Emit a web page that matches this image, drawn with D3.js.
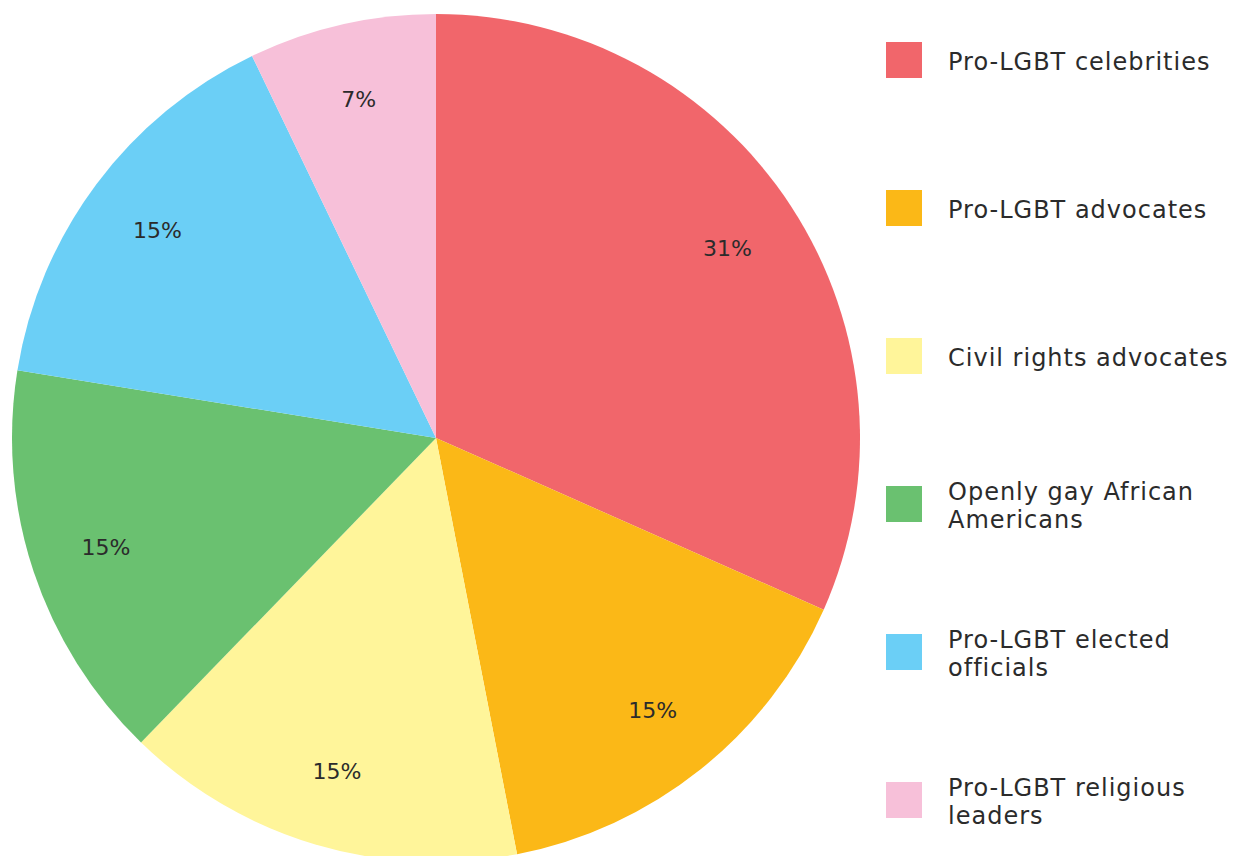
<!DOCTYPE html>
<html>
<head>
<meta charset="utf-8">
<script src="https://cdn.jsdelivr.net/npm/d3@7"></script>
<style>
  body { margin: 0; background: #fff; }
  svg { display: block; }
</style>
</head>
<body>
<div id="chart"></div>
<script>
(function () {
  var categories = ["Pro-LGBT celebrities", "Pro-LGBT advocates", "Civil rights advocates",
                    "Openly gay African Americans", "Pro-LGBT elected officials", "Pro-LGBT religious leaders"];
  var legendLines = [["Pro-LGBT celebrities"], ["Pro-LGBT advocates"], ["Civil rights advocates"],
                     ["Openly gay African", "Americans"], ["Pro-LGBT elected", "officials"],
                     ["Pro-LGBT religious", "leaders"]];
  var values = [31, 15, 15, 15, 15, 7];
  var colors = ["#f1666b", "#fbb817", "#fff59a", "#6ac170", "#6bcff6", "#f7c0d9"];

  var w = 1234,
      h = 856,
      cx = 436,
      cy = 438,
      r = 424;

  var font = "'DejaVu Sans', sans-serif";

  var svg = d3.select("#chart")
      .append("svg")
      .attr("width", w)
      .attr("height", h);

  var pie = d3.pie().sort(null).value(function(d) { return d; });
  var arc = d3.arc().innerRadius(0).outerRadius(r);
  var labelArc = d3.arc().innerRadius(r * 0.82).outerRadius(r * 0.82);

  var g = svg.append("g").attr("transform", "translate(" + cx + "," + cy + ")");
  var arcs = pie(values);

  g.selectAll("path")
      .data(arcs)
      .enter()
      .append("path")
      .attr("d", arc)
      .attr("fill", function(d, i) { return colors[i]; });

  g.selectAll("text")
      .data(arcs)
      .enter()
      .append("text")
      .text(function(d) { return d.data + "%"; })
      .attr("transform", function(d) { return "translate(" + labelArc.centroid(d) + ")"; })
      .attr("text-anchor", "middle")
      .attr("dy", "0.35em")
      .attr("font-family", font)
      .attr("font-size", "22px")
      .attr("fill", "#2b2b2b");

  var legend = svg.selectAll(".legend")
      .data(categories)
      .enter()
      .append("g")
      .attr("class", "legend")
      .attr("transform", function(d, i) { return "translate(886," + (60 + i * 148) + ")"; });

  legend.append("rect")
      .attr("x", 0)
      .attr("y", -18)
      .attr("width", 36)
      .attr("height", 36)
      .attr("fill", function(d, i) { return colors[i]; });

  // one text per line so wrapped labels keep the tight 28px spacing
  legend.each(function(d, i) {
    var lines = legendLines[i];
    var y0 = -(lines.length - 1) * 28 / 2 + 2;
    d3.select(this).selectAll("text")
        .data(lines)
        .enter()
        .append("text")
        .attr("x", 62)
        .attr("y", function(l, j) { return y0 + j * 28; })
        .attr("dy", "0.35em")
        .attr("font-family", font)
        .attr("font-size", "24px")
        .attr("letter-spacing", "1px")
        .attr("fill", "#2b2b2b")
        .text(function(l) { return l; });
  });
})();
</script>
</body>
</html>
